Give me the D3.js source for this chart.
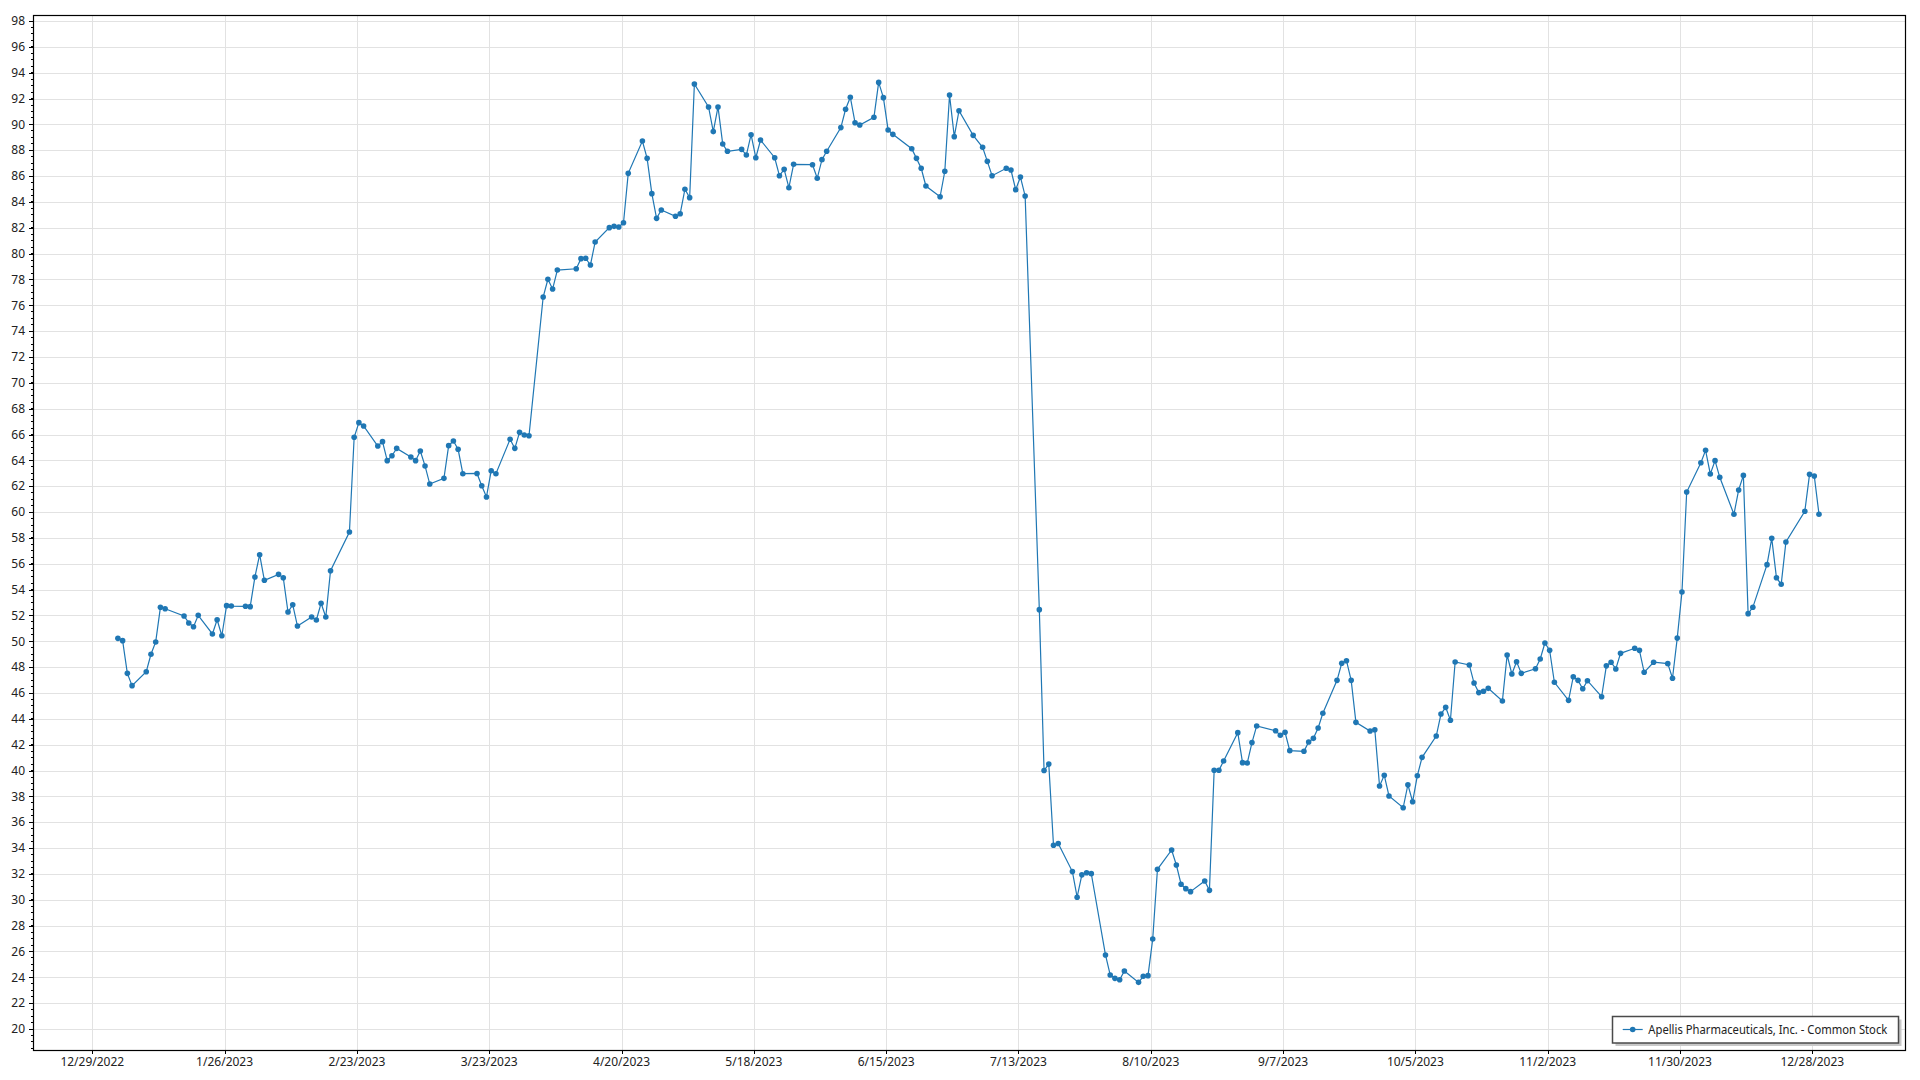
<!DOCTYPE html>
<html>
<head>
<meta charset="utf-8">
<script src="https://cdn.jsdelivr.net/npm/d3@7/dist/d3.min.js"></script>
<style>
  html, body { margin: 0; padding: 0; background: #fff; }
  svg { display: block; }
  text { font-family: "Segoe UI", "Noto Sans", "Open Sans", sans-serif; }
</style>
</head>
<body>
<svg id="chart" width="1920" height="1080"></svg>
<script>
// ---------------- DATA ----------------
const seriesName = "Apellis Pharmaceuticals, Inc. - Common Stock";

// Trading dates of 2023 (M/D)
const dates = [
  "1/3","1/4","1/5","1/6","1/9","1/10","1/11","1/12","1/13","1/17","1/18","1/19","1/20","1/23","1/24","1/25","1/26","1/27","1/30","1/31",
  "2/1","2/2","2/3","2/6","2/7","2/8","2/9","2/10","2/13","2/14","2/15","2/16","2/17","2/21","2/22","2/23","2/24","2/27","2/28",
  "3/1","3/2","3/3","3/6","3/7","3/8","3/9","3/10","3/13","3/14","3/15","3/16","3/17","3/20","3/21","3/22","3/23","3/24","3/27","3/28","3/29","3/30","3/31",
  "4/3","4/4","4/5","4/6","4/10","4/11","4/12","4/13","4/14","4/17","4/18","4/19","4/20","4/21","4/24","4/25","4/26","4/27","4/28",
  "5/1","5/2","5/3","5/4","5/5","5/8","5/9","5/10","5/11","5/12","5/15","5/16","5/17","5/18","5/19","5/22","5/23","5/24","5/25","5/26","5/30","5/31",
  "6/1","6/2","6/5","6/6","6/7","6/8","6/9","6/12","6/13","6/14","6/15","6/16","6/20","6/21","6/22","6/23","6/26","6/27","6/28","6/29","6/30",
  "7/3","7/5","7/6","7/7","7/10","7/11","7/12","7/13","7/14","7/17","7/18","7/19","7/20","7/21","7/24","7/25","7/26","7/27","7/28","7/31",
  "8/1","8/2","8/3","8/4","8/7","8/8","8/9","8/10","8/11","8/14","8/15","8/16","8/17","8/18","8/21","8/22","8/23","8/24","8/25","8/28","8/29","8/30","8/31",
  "9/1","9/5","9/6","9/7","9/8","9/11","9/12","9/13","9/14","9/15","9/18","9/19","9/20","9/21","9/22","9/25","9/26","9/27","9/28","9/29",
  "10/2","10/3","10/4","10/5","10/6","10/9","10/10","10/11","10/12","10/13","10/16","10/17","10/18","10/19","10/20","10/23","10/24","10/25","10/26","10/27","10/30","10/31",
  "11/1","11/2","11/3","11/6","11/7","11/8","11/9","11/10","11/13","11/14","11/15","11/16","11/17","11/20","11/21","11/22","11/24","11/27","11/28","11/29","11/30",
  "12/1","12/4","12/5","12/6","12/7","12/8","12/11","12/12","12/13","12/14","12/15","12/18","12/19","12/20","12/21","12/22","12/26","12/27","12/28","12/29"
];

// Closing prices
const prices = [
  50.23,50.05,47.52,46.57,47.65,49.00,49.95,52.63,52.52,51.96,51.42,51.13,52.01,50.57,51.67,50.43,52.76,52.73,52.71,52.68,
  54.98,56.70,54.72,55.18,54.92,52.27,52.83,51.18,51.88,51.65,52.94,51.88,55.46,58.46,65.79,66.92,66.66,65.11,65.45,
  63.98,64.36,64.93,64.26,63.98,64.73,63.57,62.17,62.61,65.14,65.50,64.86,62.97,62.99,62.04,61.17,63.20,62.97,65.63,64.93,66.17,65.96,65.91,
  76.64,78.01,77.26,78.73,78.83,79.61,79.64,79.12,80.90,82.01,82.11,82.06,82.39,86.21,88.71,87.37,84.64,82.73,83.37,
  82.89,83.09,84.98,84.33,93.13,91.35,89.44,91.35,88.48,87.92,88.07,87.63,89.20,87.42,88.79,87.42,86.03,86.52,85.10,86.91,86.88,85.83,
  87.27,87.92,89.75,91.17,92.10,90.13,89.95,90.55,93.25,92.07,89.57,89.23,88.12,87.37,86.60,85.23,84.40,86.37,92.27,89.05,91.06,
  89.15,88.23,87.14,86.03,86.60,86.47,84.95,85.93,84.46,52.45,40.00,40.50,34.22,34.35,32.18,30.20,31.93,32.09,32.02,25.73,
  24.18,23.92,23.81,24.49,23.61,24.08,24.13,26.96,32.36,33.85,32.69,31.20,30.86,30.63,31.45,30.73,40.02,40.02,40.74,42.93,40.61,40.58,42.16,
  43.45,43.08,42.73,42.96,41.54,41.49,42.21,42.49,43.29,44.43,46.98,48.30,48.50,46.98,43.73,43.06,43.16,38.80,39.63,38.03,
  37.12,38.90,37.59,39.60,41.02,42.67,44.37,44.89,43.89,48.40,48.17,46.77,46.03,46.13,46.36,45.38,48.94,47.47,48.42,47.52,47.88,48.63,
  49.87,49.30,46.83,45.43,47.26,46.98,46.33,46.95,45.71,48.10,48.38,47.86,49.07,49.46,49.30,47.60,48.38,48.27,47.14,50.25,53.82,
  61.55,63.82,64.78,62.95,63.98,62.69,59.83,61.71,62.84,52.14,52.63,55.93,57.97,54.92,54.41,57.68,60.06,62.92,62.79,59.83
];

// Axis tick labels
const xTickLabels = ["12/29/2022","1/26/2023","2/23/2023","3/23/2023","4/20/2023","5/18/2023","6/15/2023",
                     "7/13/2023","8/10/2023","9/7/2023","10/5/2023","11/2/2023","11/30/2023","12/28/2023"];
const yTickValues = d3.range(20, 99, 2);

// ---------------- LAYOUT ----------------
const plot = { left: 33, right: 1905, top: 15, bottom: 1050 };
const color = "#1f77b4";

const parseMDY = d3.timeParse("%m/%d/%Y");
const xTicks = xTickLabels.map(parseMDY);
const points = dates.map((d, i) => ({
  date: new Date(parseMDY(d + "/2023").getTime() + 10 * 3600000),
  value: prices[i]
}));

const x = d3.scaleTime()
  .domain([xTicks[0], xTicks[xTicks.length - 1]])
  .range([92.3, 1812.3]);
const y = d3.scaleLinear().domain([20, 98]).range([1029, 21]);

const svg = d3.select("#chart");

// Gridlines
const grid = svg.append("g").attr("stroke", "#e2e2e2").attr("stroke-width", 1).attr("shape-rendering", "crispEdges");
grid.selectAll("line.h").data(yTickValues).join("line")
  .attr("x1", plot.left).attr("x2", plot.right)
  .attr("y1", d => Math.round(y(d)) + 0.5).attr("y2", d => Math.round(y(d)) + 0.5);
grid.selectAll("line.v").data(xTicks).join("line")
  .attr("y1", plot.top).attr("y2", plot.bottom)
  .attr("x1", d => Math.round(x(d)) + 0.5).attr("x2", d => Math.round(x(d)) + 0.5);

// Y axis (left) with major + minor ticks
const yAxisG = svg.append("g").attr("transform", `translate(${plot.left},0)`);
yAxisG.selectAll("line.minor").data(d3.range(18.5, 98.5, 0.5)).join("line")
  .attr("x1", -2).attr("x2", 0)
  .attr("y1", d => y(d)).attr("y2", d => y(d))
  .attr("stroke", "#000").attr("stroke-width", 1).attr("shape-rendering", "crispEdges");
yAxisG.selectAll("line.major").data(yTickValues).join("line")
  .attr("x1", -4).attr("x2", 0)
  .attr("y1", d => Math.round(y(d)) + 0.5).attr("y2", d => Math.round(y(d)) + 0.5)
  .attr("stroke", "#000").attr("stroke-width", 1).attr("shape-rendering", "crispEdges");
yAxisG.selectAll("text").data(yTickValues).join("text")
  .attr("x", -8).attr("y", d => y(d)).attr("dy", "0.35em")
  .attr("text-anchor", "end").attr("font-size", 12).attr("fill", "#222")
  .text(d => d);

// X axis (bottom)
const xAxisG = svg.append("g");
xAxisG.selectAll("line").data(xTicks).join("line")
  .attr("x1", d => Math.round(x(d)) + 0.5).attr("x2", d => Math.round(x(d)) + 0.5)
  .attr("y1", plot.bottom).attr("y2", plot.bottom + 4)
  .attr("stroke", "#000").attr("shape-rendering", "crispEdges");
xAxisG.selectAll("text").data(xTicks).join("text")
  .attr("x", d => x(d)).attr("y", 1066)
  .attr("text-anchor", "middle").attr("font-size", 12).attr("fill", "#222")
  .text((d, i) => xTickLabels[i]);

// Plot border
svg.append("rect")
  .attr("x", plot.left + 0.5).attr("y", plot.top + 0.5)
  .attr("width", plot.right - plot.left).attr("height", plot.bottom - plot.top)
  .attr("fill", "none").attr("stroke", "#000").attr("stroke-width", 1.2);

// Series line
const line = d3.line().x(d => x(d.date)).y(d => y(d.value));
svg.append("path").datum(points)
  .attr("d", line).attr("fill", "none").attr("stroke", color).attr("stroke-width", 1.2);

svg.append("g").selectAll("circle").data(points).join("circle")
  .attr("cx", d => x(d.date)).attr("cy", d => y(d.value)).attr("r", 2.8)
  .attr("fill", color);

// Legend
const lg = svg.append("g");
const lx = 1612.5, ly = 1016.5, lw = 286, lh = 26.5;
lg.append("rect").attr("x", lx + 3).attr("y", ly + 3).attr("width", lw).attr("height", lh).attr("fill", "#c8c8c8");
lg.append("rect").attr("x", lx).attr("y", ly).attr("width", lw).attr("height", lh)
  .attr("fill", "#fff").attr("stroke", "#4a4a4a").attr("stroke-width", 1.5);
lg.append("line").attr("x1", 1622.7).attr("x2", 1642.7).attr("y1", 1029.5).attr("y2", 1029.5)
  .attr("stroke", color).attr("stroke-width", 1.2);
lg.append("circle").attr("cx", 1632.7).attr("cy", 1029.5).attr("r", 2.8).attr("fill", color);
lg.append("text").attr("x", 1648.3).attr("y", 1029.5).attr("dy", "0.35em")
  .attr("font-size", 12).attr("fill", "#222")
  .attr("textLength", 239).attr("lengthAdjust", "spacingAndGlyphs")
  .text(seriesName);
</script>
</body>
</html>
